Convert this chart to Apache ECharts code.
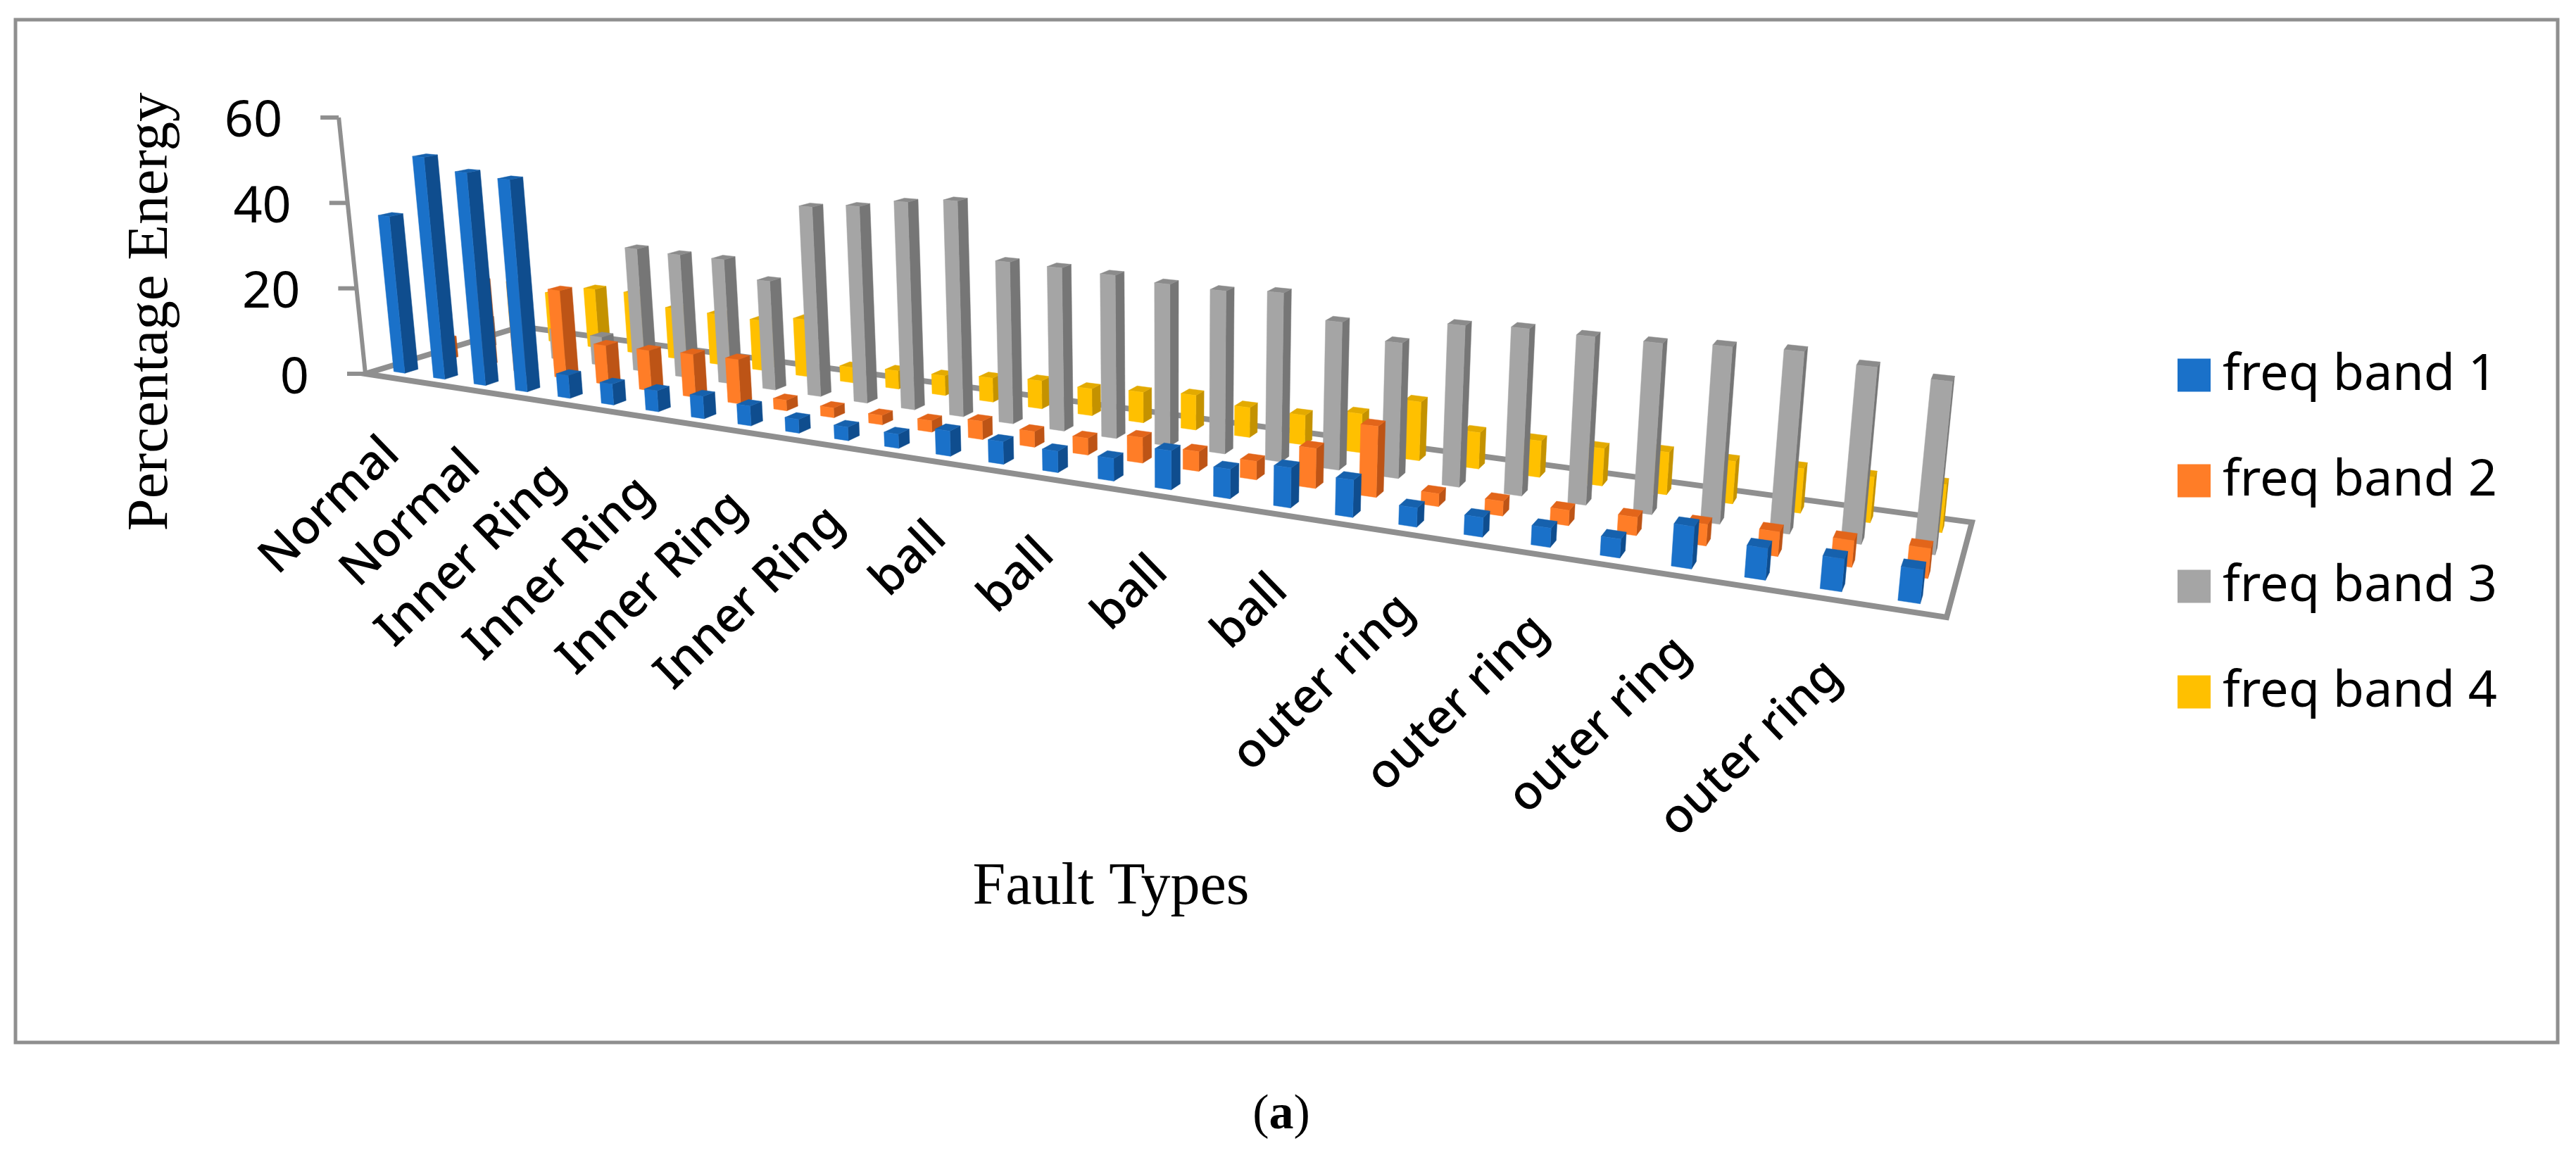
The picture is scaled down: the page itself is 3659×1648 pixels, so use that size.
<!DOCTYPE html>
<html><head><meta charset="utf-8">
<style>html,body{margin:0;padding:0;background:#fff}#c{width:3659px;height:1648px}</style>
<script src="https://cdn.jsdelivr.net/npm/echarts@6/dist/echarts.min.js"></script>
</head><body><div id="c"></div>
<script>
const categories = ['Normal','Normal','Normal','Normal',
 'Inner Ring','Inner Ring','Inner Ring','Inner Ring','Inner Ring','Inner Ring','Inner Ring','Inner Ring',
 'ball','ball','ball','ball','ball','ball','ball','ball',
 'outer ring','outer ring','outer ring','outer ring','outer ring','outer ring','outer ring','outer ring'];
const band1 = [36.7,51.4,48.7,48.0,5.1,4.6,4.6,4.8,4.2,2.9,2.8,2.9,5.1,4.5,4.2,4.4,7.5,5.6,7.5,6.9,3.5,3.5,3.4,3.3,7.3,5.4,5.5,5.6];
const band2 = [5,20,21,20.3,8.9,9.1,9.6,9.8,2.3,2.1,2.0,2.4,3.8,3.2,3.4,5.1,3.9,3.6,7.7,13.5,2.4,2.7,2.8,3.3,3.8,4.3,4.6,5.1];
const band3 = [7,7,7,6.7,28.7,28.4,28.4,24.6,42.4,43.5,45.4,46.6,34.5,34.4,34.0,33.3,33.1,33.9,29.3,26.5,31.2,31.9,31.7,31.8,32.5,33.0,31.6,30.5];
const band4 = [13.6,12.0,14.3,14.5,12,11.9,11.7,13.2,3.5,4.1,4.4,5.3,6.1,5.8,6.5,7.3,6.2,6.1,7.9,11.8,7.2,7.1,7.2,8.1,8.0,8.3,8.4,8.7];
const seriesNames = ['freq band 1','freq band 2','freq band 3','freq band 4'];
const yTicks = [0,20,40,60];

// perspective floor (corners on screen) and vanishing point of the vertical direction
const A=[519,531],B=[2765,877],C=[2801,742],D=[740,464],V=[1666,11560];
const GRID={left:519,top:165,width:2246,height:366};
const H=(function(){
  const dx1=B[0]-C[0],dx2=D[0]-C[0],sx=A[0]-B[0]+C[0]-D[0];
  const dy1=B[1]-C[1],dy2=D[1]-C[1],sy=A[1]-B[1]+C[1]-D[1];
  const det=dx1*dy2-dx2*dy1;
  const g=(sx*dy2-dx2*sy)/det,h=(dx1*sy-sx*dy1)/det;
  return {g,h,a:B[0]*(1+g)-A[0],b:D[0]*(1+h)-A[0],d:B[1]*(1+g)-A[1],e:D[1]*(1+h)-A[1]};
})();
function proj(u,w,hpx){
  const den=1+H.g*u+H.h*w;
  const x=(A[0]+H.a*u+H.b*w)/den,y=(A[1]+H.d*u+H.e*w)/den;
  const vx=x-V[0],vy=y-V[1],l=Math.hypot(vx,vy);
  const s=(hpx||0)/den;
  return [x+vx/l*s,y+vy/l*s];
}
const BAR_W=0.28,BAR_D=0.08;
const shades=[
 {front:'#1a71c9',side:'#0f4d8e',top:'#1661ad'},
 {front:'#ff7d27',side:'#bd5416',top:'#e2651a'},
 {front:'#a5a5a5',side:'#767676',top:'#8b8b8b'},
 {front:'#ffc000',side:'#c49200',top:'#e3aa00'}];
function barRender(j){
  return function(params,api){
    const i=api.value(0),v=api.value(1);
    const p0=api.coord([i,0]),p1=api.coord([i,v]);
    const catW=api.size([1,0])[0];
    const uc=(p0[0]-GRID.left)/GRID.width,hu=catW/GRID.width*BAR_W/2;
    const wc=(j+0.5)/4,hw=BAR_D/2;
    const h=p0[1]-p1[1];
    const u1=uc-hu,u2=uc+hu,w1=wc-hw,w2=wc+hw;
    const c=shades[j];
    const poly=(pts,col)=>({type:'polygon',shape:{points:pts},style:{fill:col,stroke:col,lineWidth:0.5},silent:true});
    return {type:'group',children:[
      poly([proj(u2,w1,0),proj(u2,w2,0),proj(u2,w2,h),proj(u2,w1,h)],c.side),
      poly([proj(u1,w1,h),proj(u2,w1,h),proj(u2,w2,h),proj(u1,w2,h)],c.top),
      poly([proj(u1,w1,0),proj(u2,w1,0),proj(u2,w1,h),proj(u1,w1,h)],c.front)
    ]};
  };
}
const LINE='#8f8f8f';
function floorRender(params,api){
  return {type:'polygon',shape:{points:[proj(0,0),proj(1,0),proj(1,1),proj(0,1)]},
    style:{fill:'none',stroke:LINE,lineWidth:8,lineJoin:'miter'},silent:true};
}
function yAxisRender(params,api){
  const v=api.value(0);
  const h=api.coord([0,0])[1]-api.coord([0,v])[1];
  const p=proj(0,0,h);
  const kids=[{type:'line',shape:{x1:p[0]-26,y1:p[1],x2:p[0],y2:p[1]},style:{stroke:LINE,lineWidth:6}},
   {type:'text',x:p[0]-80,y:p[1]+7,style:{text:String(v),font:'72px "Noto Sans"',fill:'#000',align:'right',verticalAlign:'middle'}}];
  if(v===60){const q=proj(0,0,0);kids.push({type:'line',shape:{x1:q[0],y1:q[1],x2:p[0],y2:p[1]},style:{stroke:LINE,lineWidth:6}});}
  return {type:'group',children:kids,silent:true};
}
function xLabelRender(params,api){
  const i=api.value(0);
  if(i%2) return null;
  const p0=api.coord([i,0]);
  const u=(p0[0]-GRID.left)/GRID.width;
  const p=proj(u,0,0);
  return {type:'text',x:p[0]+10,y:p[1]+99,rotation:44*Math.PI/180,
    style:{text:categories[i],font:'500 68px "Noto Sans"',fill:'#000',align:'right',verticalAlign:'middle'},silent:true};
}
const bars=[band1,band2,band3,band4].map((d,j)=>({
  name:seriesNames[j],type:'custom',z:5-j+1,renderItem:barRender(j),clip:false,
  itemStyle:{color:shades[j].front},encode:{x:0,y:1},
  data:d.map((v,i)=>[i,v])
}));
const chart=echarts.init(document.getElementById('c'),null,{renderer:'canvas',width:3659,height:1648});
chart.setOption({
  animation:false,backgroundColor:'#fff',
  grid:{left:GRID.left,top:GRID.top,width:GRID.width,height:GRID.height,containLabel:false},
  xAxis:{type:'category',data:categories,show:false},
  yAxis:{type:'value',min:0,max:60,interval:20,show:false},
  legend:{orient:'vertical',left:3088,top:492,itemWidth:47,itemHeight:47,itemGap:78,icon:'rect',
    data:seriesNames,selectedMode:false,
    textStyle:{fontFamily:'Noto Sans',fontSize:72,color:'#000',lineHeight:47,padding:[0,0,0,12]}},
  graphic:[
    {type:'rect',z:0,shape:{x:22,y:28,width:3611,height:1453},style:{fill:'none',stroke:LINE,lineWidth:5}},
    {type:'text',x:215,y:443,rotation:Math.PI/2,style:{text:'Percentage Energy',font:'83px "Liberation Serif"',fill:'#000',align:'center',verticalAlign:'middle'}},
    {type:'text',x:1578,y:1262,style:{text:'Fault Types',font:'84px "Liberation Serif"',fill:'#000',align:'center',verticalAlign:'middle'}},
    {type:'text',x:1820,y:1585,style:{text:'({a|a})',font:'70px "Liberation Serif"',fill:'#000',align:'center',verticalAlign:'middle',
      rich:{a:{font:'bold 70px "Liberation Serif"',fill:'#000'}}}}
  ],
  series:[
    {type:'custom',name:'floor',z:1,renderItem:floorRender,data:[[0,0]],clip:false,silent:true},
    ...bars,
    {type:'custom',name:'yaxis',z:7,renderItem:yAxisRender,data:yTicks.map(v=>[v]),encode:{y:0},clip:false,silent:true},
    {type:'custom',name:'xlabels',z:7,renderItem:xLabelRender,data:categories.map((c,i)=>[i]),encode:{x:0},clip:false,silent:true}
  ]
});
</script></body></html>
